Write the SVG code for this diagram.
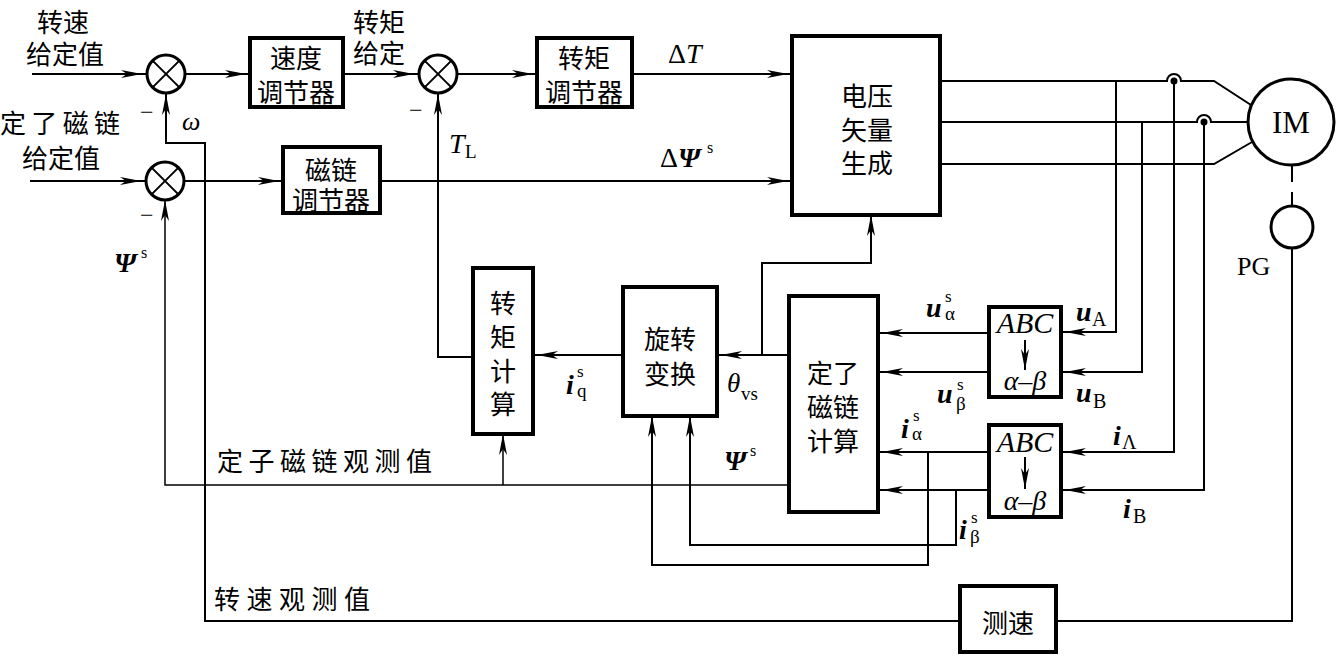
<svg xmlns="http://www.w3.org/2000/svg" width="1336" height="655" viewBox="0 0 1336 655">
<style>
.ln{stroke:#000;stroke-width:2;fill:none}
.thin{stroke:#000;stroke-width:1.5;fill:none}
.box{stroke:#000;stroke-width:4;fill:#fff}
.sum{stroke:#000;stroke-width:3;fill:#fff}
.cjk{font-family:"Noto Sans CJK SC",sans-serif;font-size:26px;fill:#000;dominant-baseline:central;text-anchor:middle}
.cjl{font-family:"Noto Sans CJK SC",sans-serif;font-size:26px;fill:#000;dominant-baseline:central}
.m{font-family:"Liberation Serif",serif;fill:#000}
.it{font-style:italic}
.bi{font-style:italic;font-weight:bold}
</style>
<defs>
<marker id="ar" markerUnits="userSpaceOnUse" markerWidth="26" markerHeight="10" viewBox="0 0 26 10" refX="25" refY="5" orient="auto">
<path d="M0,1 L21,5 L0,9 L6,5 Z" fill="#000"/>
</marker>
<marker id="ar2" markerUnits="userSpaceOnUse" markerWidth="26" markerHeight="10" viewBox="0 0 26 10" refX="21" refY="5" orient="auto">
<path d="M0,1 L21,5 L0,9 L6,5 Z" fill="#000"/>
</marker>
</defs>

<!-- free labels -->
<g id="labels">
<text class="cjk" x="63" y="20" font-size="27">转速</text>
<text class="cjk" x="65" y="52" font-size="27">给定值</text>
<text class="cjl" x="0" y="121" textLength="120" font-size="27">定了磁链</text>
<text class="cjk" x="61" y="156" font-size="27">给定值</text>
<text class="cjk" x="379" y="20" font-size="27">转矩</text>
<text class="cjk" x="379" y="51" font-size="27">给定</text>
<text class="cjl" x="217" y="459" textLength="215" font-size="27">定子磁链观测值</text>
<text class="cjl" x="214" y="597" textLength="156" font-size="27">转速观测值</text>
<text class="m" x="140" y="120" font-size="24">−</text>
<text class="m" x="140" y="223" font-size="24">−</text>
<text class="m" x="409" y="118" font-size="24">−</text>
<text class="m it" x="182" y="130" font-size="26">ω</text>
<text class="m" x="668" y="63" font-size="28">Δ<tspan class="it">T</tspan></text>
<text class="m" x="660" y="167" font-size="28">Δ<tspan class="bi">Ψ</tspan></text>
<text class="m" x="707" y="153" font-size="16">s</text>
<text class="m it" x="449" y="153" font-size="28">T</text>
<text class="m" x="465" y="158" font-size="19">L</text>
<text class="m bi" x="114" y="272" font-size="28">Ψ</text>
<text class="m" x="141" y="258" font-size="16">s</text>
<text class="m bi" x="566" y="394" font-size="28">i</text>
<text class="m" x="577" y="377" font-size="17">s</text>
<text class="m" x="577" y="397" font-size="19">q</text>
<text class="m it" x="727" y="392" font-size="27">θ</text>
<text class="m" x="741" y="400" font-size="19">vs</text>
<text class="m bi" x="724" y="470" font-size="28">Ψ</text>
<text class="m" x="750" y="456" font-size="16">s</text>
<text class="m bi" x="926" y="317" font-size="28">u</text>
<text class="m" x="945" y="302" font-size="17">s</text>
<text class="m" x="945" y="320" font-size="19">α</text>
<text class="m bi" x="937" y="403" font-size="28">u</text>
<text class="m" x="957" y="390" font-size="17">s</text>
<text class="m" x="956" y="410" font-size="19">β</text>
<text class="m bi" x="901" y="438" font-size="28">i</text>
<text class="m" x="913" y="421" font-size="17">s</text>
<text class="m" x="912" y="440" font-size="19">α</text>
<text class="m bi" x="959" y="539" font-size="28">i</text>
<text class="m" x="971" y="523" font-size="17">s</text>
<text class="m" x="970" y="543" font-size="19">β</text>
<text class="m bi" x="1076" y="321" font-size="28">u</text>
<text class="m" x="1092" y="326" font-size="20">A</text>
<text class="m bi" x="1076" y="402" font-size="28">u</text>
<text class="m" x="1093" y="408" font-size="20">B</text>
<text class="m bi" x="1113" y="445" font-size="28">i</text>
<text class="m" x="1122" y="449" font-size="20">Λ</text>
<text class="m bi" x="1123" y="518" font-size="28">i</text>
<text class="m" x="1133" y="523" font-size="20">B</text>
<text class="m" x="1237" y="275" font-size="26">PG</text>
</g>

<!-- connectors -->
<g id="connectors">
<path class="ln" d="M32,74 H146" marker-end="url(#ar)"/>
<path class="ln" d="M186,74 H250" marker-end="url(#ar)"/>
<path class="ln" d="M343,74 H418" marker-end="url(#ar)"/>
<path class="ln" d="M458,74 H537" marker-end="url(#ar)"/>
<path class="ln" d="M632,74 H792" marker-end="url(#ar)"/>
<path class="ln" d="M30,181 H145" marker-end="url(#ar)"/>
<path class="ln" d="M185,181 H283" marker-end="url(#ar)"/>
<path class="ln" d="M380,181 H792" marker-end="url(#ar)"/>
<path class="ln" d="M960,621 H205 V143 H166 V94" marker-end="url(#ar2)"/>
<path class="ln" d="M1292,248 V621 H1056"/>
<path class="thin" d="M789,485 H165 V200" marker-end="url(#ar2)"/>
<path class="thin" d="M503,485 V434" marker-end="url(#ar2)"/>
<path class="ln" d="M473,357 H438 V94" marker-end="url(#ar2)"/>
<path class="ln" d="M623,355 H533" marker-end="url(#ar)"/>
<path class="ln" d="M789,355 H717" marker-end="url(#ar)"/>
<path class="ln" d="M762,355 V263 H871 V215" marker-end="url(#ar2)"/>
<path class="ln" d="M989,333 H878" marker-end="url(#ar)"/>
<path class="ln" d="M989,372 H878" marker-end="url(#ar)"/>
<path class="ln" d="M989,452 H878" marker-end="url(#ar)"/>
<path class="ln" d="M989,490 H878" marker-end="url(#ar)"/>
<path class="ln" d="M928,452 V565 H652 V416" marker-end="url(#ar2)"/>
<path class="ln" d="M956,490 V545 H690 V416" marker-end="url(#ar2)"/>
<path class="ln" d="M1116,81 V332 H1061" marker-end="url(#ar)"/>
<path class="ln" d="M1142,122 V372 H1061" marker-end="url(#ar)"/>
<path class="ln" d="M1174,81 V452 H1061" marker-end="url(#ar)"/>
<path class="ln" d="M1204,122 V490 H1061" marker-end="url(#ar)"/>
<path class="ln" d="M940,81 H1167 A7,7 0 0 1 1181,81 H1214 L1251,105"/>
<path class="ln" d="M940,122 H1197 A7,7 0 0 1 1211,122 H1248"/>
<path class="ln" d="M940,164 H1214 L1252,142"/>
<circle cx="1174" cy="81" r="3.5" fill="#000"/>
<circle cx="1204" cy="122" r="3.5" fill="#000"/>
<path class="ln" d="M1292,165 V182 M1292,192 V206"/>
</g>

<!-- nodes -->
<g id="sum1"><circle class="sum" cx="166" cy="74" r="19"/><path class="ln" d="M152.6,60.6 L179.4,87.4 M179.4,60.6 L152.6,87.4"/></g>
<g id="sum2"><circle class="sum" cx="438" cy="74" r="19"/><path class="ln" d="M424.6,60.6 L451.4,87.4 M451.4,60.6 L424.6,87.4"/></g>
<g id="sum3"><circle class="sum" cx="165" cy="181" r="19"/><path class="ln" d="M151.6,167.6 L178.4,194.4 M178.4,167.6 L151.6,194.4"/></g>

<g id="speed-reg"><rect class="box" x="250" y="38" width="93" height="69"/><text class="cjk" x="296" y="56">速度</text><text class="cjk" x="296" y="90">调节器</text></g>
<g id="torque-reg"><rect class="box" x="537" y="38" width="95" height="69"/><text class="cjk" x="584" y="56">转矩</text><text class="cjk" x="584" y="90">调节器</text></g>
<g id="flux-reg"><rect class="box" x="283" y="147" width="97" height="66"/><text class="cjk" x="331" y="168">磁链</text><text class="cjk" x="331" y="198">调节器</text></g>
<g id="voltage-vector"><rect class="box" x="792" y="36" width="148" height="179"/><text class="cjk" x="867" y="94">电压</text><text class="cjk" x="867" y="128">矢量</text><text class="cjk" x="867" y="161">生成</text></g>
<g id="torque-calc"><rect class="box" x="473" y="268" width="60" height="166"/><text class="cjk" x="503" y="301">转</text><text class="cjk" x="503" y="335">矩</text><text class="cjk" x="503" y="369">计</text><text class="cjk" x="503" y="402">算</text></g>
<g id="rotation"><rect class="box" x="623" y="287" width="94" height="129"/><text class="cjk" x="670" y="337">旋转</text><text class="cjk" x="670" y="372">变换</text></g>
<g id="flux-calc"><rect class="box" x="789" y="296" width="89" height="216"/><text class="cjk" x="833" y="371">定了</text><text class="cjk" x="833" y="405">磁链</text><text class="cjk" x="833" y="439">计算</text></g>
<g id="abc1"><rect class="box" x="989" y="307" width="72" height="90"/><text class="m it" x="1025" y="333" font-size="30" text-anchor="middle">ABC</text><path class="ln" d="M1025,340 V370" marker-end="url(#ar2)"/><text class="m it" x="1025" y="390" font-size="28" text-anchor="middle">α–β</text></g>
<g id="abc2"><rect class="box" x="989" y="425" width="72" height="92"/><text class="m it" x="1025" y="452" font-size="30" text-anchor="middle">ABC</text><path class="ln" d="M1025,457 V489" marker-end="url(#ar2)"/><text class="m it" x="1025" y="510" font-size="28" text-anchor="middle">α–β</text></g>
<g id="motor"><circle class="sum" cx="1291" cy="122" r="43"/><text class="m" x="1291" y="133" font-size="31" text-anchor="middle">IM</text></g>
<g id="pg"><circle class="sum" cx="1292" cy="227" r="21"/></g>
<g id="speed-meas"><rect class="box" x="960" y="586" width="96" height="66"/><text class="cjk" x="1008" y="621">测速</text></g>
</svg>
